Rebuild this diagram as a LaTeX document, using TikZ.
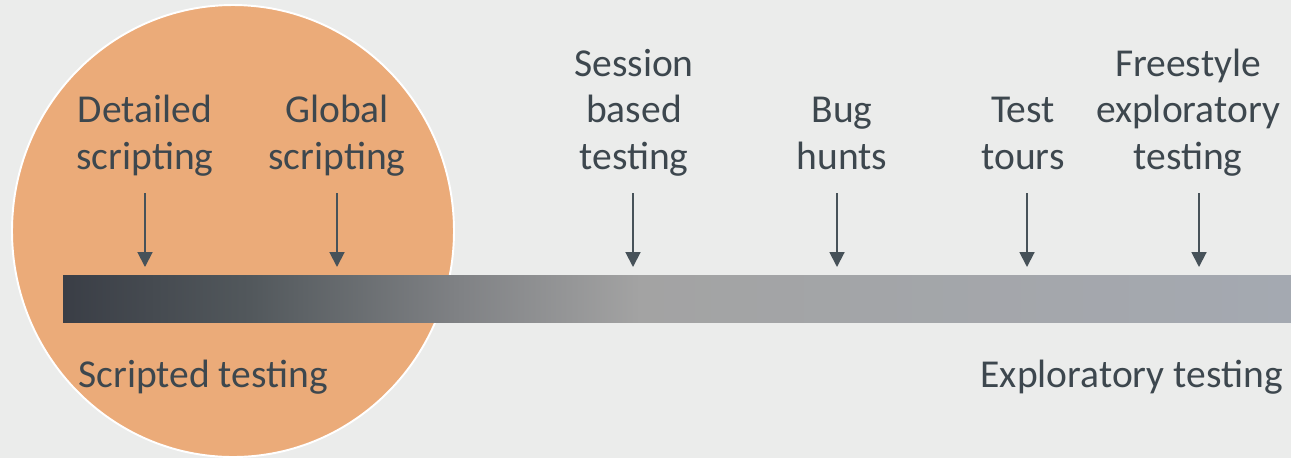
\documentclass[tikz,border=0pt]{standalone}
\usepackage{fontspec}
\setmainfont{Carlito}
\usetikzlibrary{positioning, arrows.meta}

\definecolor{bgcol}{RGB}{235,236,235}
\definecolor{circcol}{RGB}{235,171,121}
\definecolor{txtcol}{RGB}{61,71,78}
\definecolor{arrcol}{RGB}{71,82,89}
\definecolor{barA}{RGB}{58,62,70}
\definecolor{barB}{RGB}{82,88,92}
\definecolor{barC}{RGB}{128,130,133}
\definecolor{barD}{RGB}{163,163,163}
\definecolor{barE}{RGB}{164,169,177}

\pgfdeclarehorizontalshading{barshade}{100bp}{color(0bp)=(barA); color(25bp)=(barA);
  color(32.6bp)=(barB); color(41.2bp)=(barC); color(48.5bp)=(barD);
  color(75bp)=(barE); color(100bp)=(barE)}

\tikzset{
  lbl/.style={text=txtcol, align=center, inner sep=0pt, text depth=0pt,
    anchor=south, font=\fontsize{22.5}{26.6}\selectfont},
  side/.style={text=txtcol, inner sep=0pt, font=\fontsize{22.5}{26.6}\selectfont},
  arr/.style={draw=arrcol, line width=1.1pt, -{Triangle[width=8.5pt,length=8.5pt]}}
}

\begin{document}
\begin{tikzpicture}[x=0.02cm, y=-0.02cm]

    % background and circle
    \fill[bgcol] (0,0) rectangle (1291,458);
    \useasboundingbox (0,0) rectangle (1291,458);
    \filldraw[fill=circcol, draw=white, line width=1.1pt] (233,231) ellipse [x radius=221, y radius=226];

    % bar
    \shade[shading=barshade] (63,275) rectangle (1291,322);

    % labels above the bar
    \node[lbl] (detailed) at (145,170) {Detailed\\scripting};
    \node[lbl] (global) at (337,170) {Global\\scripting};
    \node[lbl] (session) at (634,170) {Session\\based\\testing};
    \node[lbl] (bug) at (842,170) {Bug\\hunts};
    \node[lbl] (tours) at (1023,170) {Test\\tours};
    \node[lbl] (freestyle) at (1188,170) {Freestyle\\exploratory\\testing};

    % arrow ends
    \coordinate (d1) at (145,193); \coordinate (d2) at (145,267);
    \coordinate (g1) at (337,193); \coordinate (g2) at (337,267);
    \coordinate (s1) at (633,193); \coordinate (s2) at (633,267);
    \coordinate (b1) at (837,193); \coordinate (b2) at (837,267);
    \coordinate (t1) at (1027,193); \coordinate (t2) at (1027,267);
    \coordinate (f1) at (1199,193); \coordinate (f2) at (1199,267);

    \draw[arr] (d1) -- (d2);
    \draw[arr] (g1) -- (g2);
    \draw[arr] (s1) -- (s2);
    \draw[arr] (b1) -- (b2);
    \draw[arr] (t1) -- (t2);
    \draw[arr] (f1) -- (f2);

    % labels below the bar
    \node[side, anchor=base west] (scripted) at (78,387) {Scripted testing};
    \node[side, anchor=base east] (exploratory) at (1283,387) {Exploratory testing};

\end{tikzpicture}
\end{document}
